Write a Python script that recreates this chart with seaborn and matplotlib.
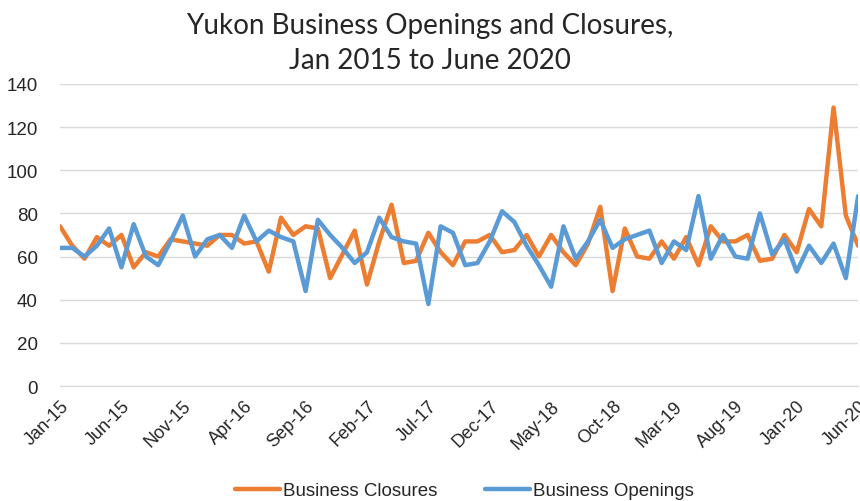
import numpy as np
import pandas as pd
import matplotlib
matplotlib.use("Agg")
import matplotlib.pyplot as plt
import seaborn as sns

# ── data (monthly Jan 2015 .. Jun 2020) ──
closures = [74, 65, 59, 69, 65, 70, 55, 62, 60, 68, 67, 66, 65, 70, 70, 66,
            67, 53, 78, 70, 74, 73, 50, 61, 72, 47, 67, 84, 57, 58, 71, 62,
            56, 67, 67, 70, 62, 63, 70, 60, 70, 62, 56, 66, 83, 44, 73, 60,
            59, 67, 59, 69, 56, 74, 67, 67, 70, 58, 59, 70, 62, 82, 74, 129,
            79, 65]
openings = [64, 64, 60, 65, 73, 55, 75, 60, 56, 67, 79, 60, 68, 70, 64, 79,
            67, 72, 69, 67, 44, 77, 70, 64, 57, 62, 78, 69, 67, 66, 38, 74,
            71, 56, 57, 67, 81, 76, 65, 56, 46, 74, 59, 67, 77, 64, 68, 70,
            72, 57, 67, 63, 88, 59, 70, 60, 59, 80, 61, 68, 53, 65, 57, 66,
            50, 88]
tick_labels = ["Jan-15", "Jun-15", "Nov-15", "Apr-16", "Sep-16", "Feb-17",
               "Jul-17", "Dec-17", "May-18", "Oct-18", "Mar-19", "Aug-19",
               "Jan-20", "Jun-20"]
y_ticks = [0, 20, 40, 60, 80, 100, 120, 140]

month = np.arange(len(closures))
df = pd.DataFrame({
    "month": np.concatenate([month, month]),
    "value": closures + openings,
    "series": ["Business Closures"] * len(closures) + ["Business Openings"] * len(openings),
})

sns.set_style("white")
plt.rcParams["font.family"] = ["Liberation Sans", "DejaVu Sans"]

fig = plt.figure(figsize=(8.6, 5.02), dpi=100)
ax = fig.add_axes([0.0698, 0.229, 0.928, 0.602])

sns.lineplot(data=df, x="month", y="value", hue="series",
             palette={"Business Closures": "#ED7D31", "Business Openings": "#5B9BD5"},
             linewidth=3.2, ax=ax, legend=False)

ax.set_xlim(0, len(closures) - 1)
ax.set_ylim(0, 140)
ax.set_yticks(y_ticks)
ax.set_yticklabels([str(v) for v in y_ticks], fontsize=13.5)
ax.set_xticks(np.arange(0, len(closures), 5))
ax.set_xticklabels(tick_labels, rotation=45, ha="right", rotation_mode="anchor", fontsize=13)
ax.set_xlabel("")
ax.set_ylabel("")
ax.grid(axis="y", color="#d9d9d9", linewidth=1)
ax.set_axisbelow(True)
for s in ["top", "right", "left"]:
    ax.spines[s].set_visible(False)
ax.spines["bottom"].set_color("#d9d9d9")
ax.tick_params(axis="x", length=5, color="#d9d9d9", pad=3)
ax.tick_params(axis="y", length=0, pad=16)

fig.suptitle("Yukon Business Openings and Closures,\nJan 2015 to June 2020",
             fontsize=20, family=["Lato", "DejaVu Sans"], y=0.975, linespacing=1.45)

handles = [plt.Line2D([], [], color="#ED7D31", lw=3.2),
           plt.Line2D([], [], color="#5B9BD5", lw=3.2)]
fig.legend(handles, ["Business Closures", "Business Openings"], loc="lower center",
           bbox_to_anchor=(0.54, -0.03), ncol=2, frameon=False, fontsize=13.5,
           handlelength=2.4, handletextpad=0.2, columnspacing=2.5)

plt.savefig("out.png", dpi=100)
